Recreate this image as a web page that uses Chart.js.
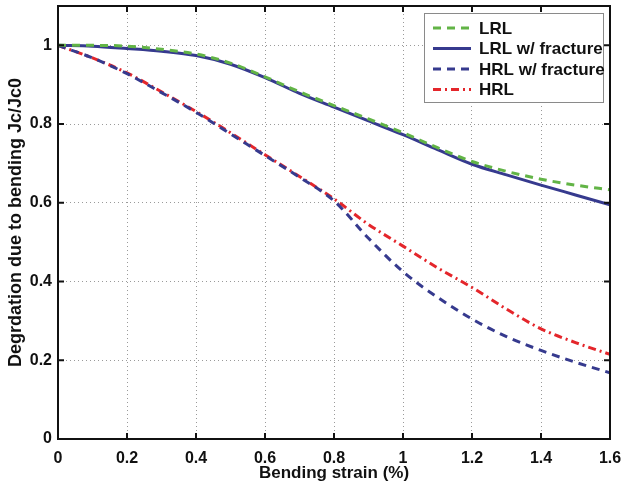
<!DOCTYPE html>
<html>
<head>
<meta charset="utf-8">
<script src="https://cdn.jsdelivr.net/npm/chart.js@4.4.0/dist/chart.umd.min.js"></script>
<style>
  html, body { margin: 0; padding: 0; background: #fff; }
  #wrap { width: 621px; height: 485px; position: relative; }
</style>
</head>
<body>
<div id="wrap"><canvas id="c" width="621" height="485"></canvas></div>
<script>
// bending strain (%) sample points
const strain = [0, 0.1, 0.2, 0.3, 0.4, 0.5, 0.6, 0.7, 0.8, 0.9, 1.0, 1.1, 1.2, 1.3, 1.4, 1.5, 1.6];

// normalised Jc/Jc0 for each conductor
const lrl         = [1.0, 1.0, 0.998, 0.99, 0.978, 0.955, 0.92, 0.882, 0.847, 0.813, 0.778, 0.74, 0.705, 0.68, 0.66, 0.645, 0.633];
const lrlFracture = [1.0, 0.998, 0.992, 0.985, 0.974, 0.952, 0.918, 0.878, 0.843, 0.808, 0.773, 0.735, 0.698, 0.671, 0.645, 0.62, 0.595];
const hrlFracture = [1.0, 0.968, 0.928, 0.88, 0.83, 0.775, 0.72, 0.665, 0.605, 0.51, 0.425, 0.36, 0.305, 0.26, 0.225, 0.195, 0.168];
const hrl         = [1.0, 0.968, 0.93, 0.882, 0.832, 0.778, 0.722, 0.667, 0.61, 0.545, 0.49, 0.435, 0.385, 0.33, 0.28, 0.245, 0.215];

const xTicks = [0, 0.2, 0.4, 0.6, 0.8, 1.0, 1.2, 1.4, 1.6];
const yTicks = [0, 0.2, 0.4, 0.6, 0.8, 1.0];

const FONT = '"Liberation Sans", Arial, Helvetica, sans-serif';
const GREEN = '#62b446';
const NAVY = '#363a8e';
const RED = '#e4262b';

function pts(vals) {
  return strain.map((x, i) => ({ x: x, y: vals[i] }));
}

function fmt(v) {
  return String(+v.toFixed(1));
}

// matlab-like frame with inward ticks on all four sides
const framePlugin = {
  id: 'frame',
  afterDatasetsDraw(chart) {
    const { ctx, chartArea: a, scales } = chart;
    ctx.save();
    ctx.strokeStyle = '#111';
    ctx.lineWidth = 2;
    ctx.beginPath();
    const len = 6;
    xTicks.forEach(v => {
      const px = scales.x.getPixelForValue(v);
      ctx.moveTo(px, a.bottom); ctx.lineTo(px, a.bottom - len);
      ctx.moveTo(px, a.top); ctx.lineTo(px, a.top + len);
    });
    yTicks.forEach(v => {
      const py = scales.y.getPixelForValue(v);
      ctx.moveTo(a.left, py); ctx.lineTo(a.left + len, py);
      ctx.moveTo(a.right, py); ctx.lineTo(a.right - len, py);
    });
    ctx.stroke();
    ctx.strokeRect(a.left, a.top, a.right - a.left, a.bottom - a.top);
    ctx.restore();
  }
};

// legend box in the upper right corner of the plot
const legendPlugin = {
  id: 'boxLegend',
  afterDraw(chart) {
    const { ctx } = chart;
    const x0 = 424, y0 = 13, w = 179, h = 89;
    ctx.save();
    ctx.fillStyle = '#fff';
    ctx.fillRect(x0, y0, w, h);
    ctx.strokeStyle = '#8a8a8a';
    ctx.lineWidth = 1;
    ctx.strokeRect(x0 + 0.5, y0 + 0.5, w, h);
    ctx.font = 'bold 17px ' + FONT;
    ctx.textBaseline = 'middle';
    ctx.fillStyle = '#111';
    chart.data.datasets.forEach((ds, i) => {
      const cy = y0 + 15 + i * 20.5;
      ctx.beginPath();
      ctx.strokeStyle = ds.borderColor;
      ctx.lineWidth = ds.borderWidth;
      ctx.setLineDash(ds.borderDash || []);
      ctx.moveTo(433, cy);
      ctx.lineTo(471, cy);
      ctx.stroke();
      ctx.setLineDash([]);
      ctx.fillText(ds.label, 479, cy + 1);
    });
    ctx.restore();
  }
};

new Chart(document.getElementById('c'), {
  type: 'line',
  data: {
    datasets: [
      { label: 'LRL', data: pts(lrl), borderColor: GREEN, borderWidth: 3, borderDash: [8, 6] },
      { label: 'LRL w/ fracture', data: pts(lrlFracture), borderColor: NAVY, borderWidth: 3 },
      { label: 'HRL w/ fracture', data: pts(hrlFracture), borderColor: NAVY, borderWidth: 3, borderDash: [8, 6] },
      { label: 'HRL', data: pts(hrl), borderColor: RED, borderWidth: 3, borderDash: [8, 4, 2, 4] }
    ]
  },
  options: {
    responsive: false,
    animation: false,
    events: [],
    layout: { padding: { top: 6, right: 11, left: 0, bottom: 0 } },
    elements: {
      point: { radius: 0 },
      line: { cubicInterpolationMode: 'monotone', fill: false }
    },
    plugins: {
      legend: { display: false },
      tooltip: { enabled: false }
    },
    scales: {
      x: {
        type: 'linear',
        min: 0,
        max: 1.6,
        afterBuildTicks(s) { s.ticks = xTicks.map(v => ({ value: v })); },
        afterFit(s) {
          s.height = 46;
          // let the end labels hang over the plot edges
          s.paddingLeft = 0;
          s.paddingRight = 0;
        },
        grid: { color: '#9a9a9a', lineWidth: 1, drawTicks: false },
        border: { display: false, dash: [1, 3] },
        ticks: {
          padding: 10,
          color: '#111',
          font: { family: FONT, size: 16, weight: 'bold' },
          callback: v => fmt(v),
          maxRotation: 0
        },
        title: {
          display: true,
          text: 'Bending strain (%)',
          color: '#111',
          font: { family: FONT, size: 17, weight: 'bold' },
          padding: { top: 0, bottom: 1 }
        }
      },
      y: {
        min: 0,
        max: 1.1,
        afterBuildTicks(s) { s.ticks = yTicks.map(v => ({ value: v })); },
        afterFit(s) {
          s.width = 58;
          s.paddingTop = 0;
          s.paddingBottom = 0;
        },
        grid: { color: '#9a9a9a', lineWidth: 1, drawTicks: false },
        border: { display: false, dash: [1, 3] },
        ticks: {
          padding: 6,
          color: '#111',
          font: { family: FONT, size: 16, weight: 'bold' },
          callback: v => fmt(v)
        },
        title: {
          display: true,
          text: 'Degrdation due to bending Jc/Jc0',
          color: '#111',
          font: { family: FONT, size: 18, weight: 'bold' },
          padding: { top: 5, bottom: 0 }
        }
      }
    }
  },
  plugins: [framePlugin, legendPlugin]
});
</script>
</body>
</html>
